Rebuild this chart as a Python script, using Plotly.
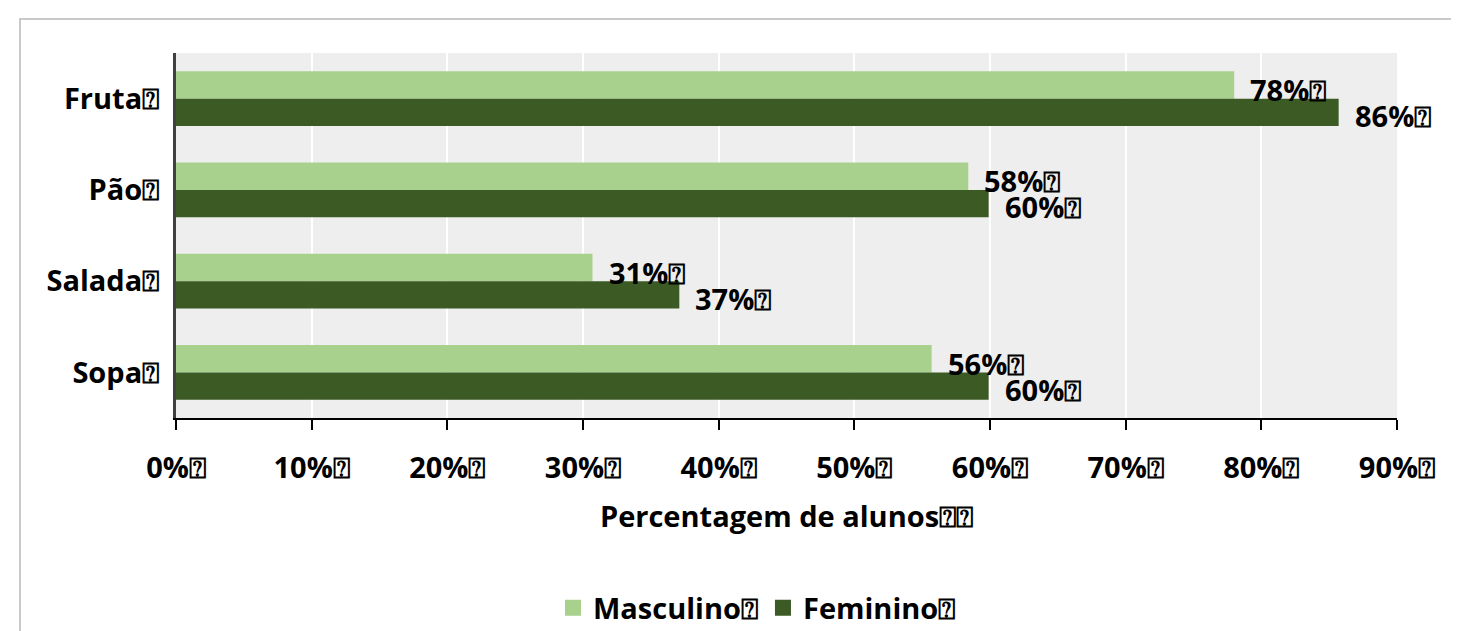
import plotly.graph_objects as go

categories = ["Fruta", "Pão", "Salada", "Sopa"]
masculino = [0.780, 0.584, 0.307, 0.557]
feminino = [0.857, 0.599, 0.371, 0.599]
series_names = ["Masculino", "Feminino"]
colors = ["#a9d18e", "#3b5a24"]
tick_vals = [0, 0.1, 0.2, 0.3, 0.4, 0.5, 0.6, 0.7, 0.8, 0.9]
BOX = "\u2370"

OFF = 8  # body margin of the page
W, H = 1459 - 2 * OFF, 631 - OFF
ML = 176 - OFF
MR = W - (1397 - OFF)
MT = 53 - OFF
MB = H - (418 - OFF)
FONT = dict(family="'Open Sans', Lato, sans-serif", size=29, color="black", weight="bold")

fig = go.Figure()
for name, vals, col in zip(series_names, [masculino, feminino], colors):
    fig.add_trace(go.Bar(
        y=[c + BOX for c in categories], x=vals, orientation="h", name=name,
        marker=dict(color=col, line=dict(width=0)), showlegend=False,
    ))
    fig.add_trace(go.Scatter(
        x=[None], y=[None], mode="markers", name=name + BOX,
        marker=dict(symbol="square", size=22, color=col), showlegend=True,
    ))

# value labels
shifts = [9, -17]
for vals, ys in zip([masculino, feminino], shifts):
    for c, v in zip(categories, vals):
        fig.add_annotation(x=v, y=c + BOX, text=f"{round(v*100)}%{BOX}", showarrow=False,
                           xanchor="left", yanchor="middle", xshift=14, yshift=ys,
                           font=FONT)

pw = W - ML - MR
ph = H - MT - MB
def px2x(px):
    return (px - OFF - ML) / pw
def py2y(py):
    return (H - MB - (py - OFF)) / ph

fig.add_shape(type="rect", xref="paper", yref="paper",
              x0=px2x(20), x1=px2x(1540), y0=py2y(19), y1=py2y(720),
              line=dict(color="#c9c9c9", width=2), fillcolor="rgba(0,0,0,0)", layer="below")

fig.update_layout(
    width=W, height=H,
    margin=dict(l=ML, r=MR, t=MT, b=MB, autoexpand=False),
    paper_bgcolor="white", plot_bgcolor="#eeeeee",
    font=FONT,
    barmode="group", bargap=0.4, bargroupgap=0,
    showlegend=True,
    legend=dict(orientation="h", x=px2x(757), xanchor="center", y=py2y(608), yanchor="middle",
                font=FONT, itemsizing="trace", bgcolor="rgba(0,0,0,0)"),
    xaxis=dict(range=[0, 0.9], tickvals=tick_vals,
               ticktext=[f"{round(v*100)}%{BOX}" for v in tick_vals],
               showgrid=True, gridcolor="white", gridwidth=2,
               showline=True, linecolor="black", linewidth=2,
               ticks="outside", ticklen=10, tickwidth=2, tickcolor="black",
               ticklabelstandoff=13, zeroline=False, automargin=False,
               title=dict(text="Percentagem de alunos" + BOX + BOX, font=FONT, standoff=22),
               tickfont=FONT),
    yaxis=dict(autorange="reversed", showline=True, linecolor="#404040", linewidth=3,
               showgrid=False, ticks="", ticklabelstandoff=8, tickfont=FONT, automargin=False),
)

fig.write_html("out.html")
